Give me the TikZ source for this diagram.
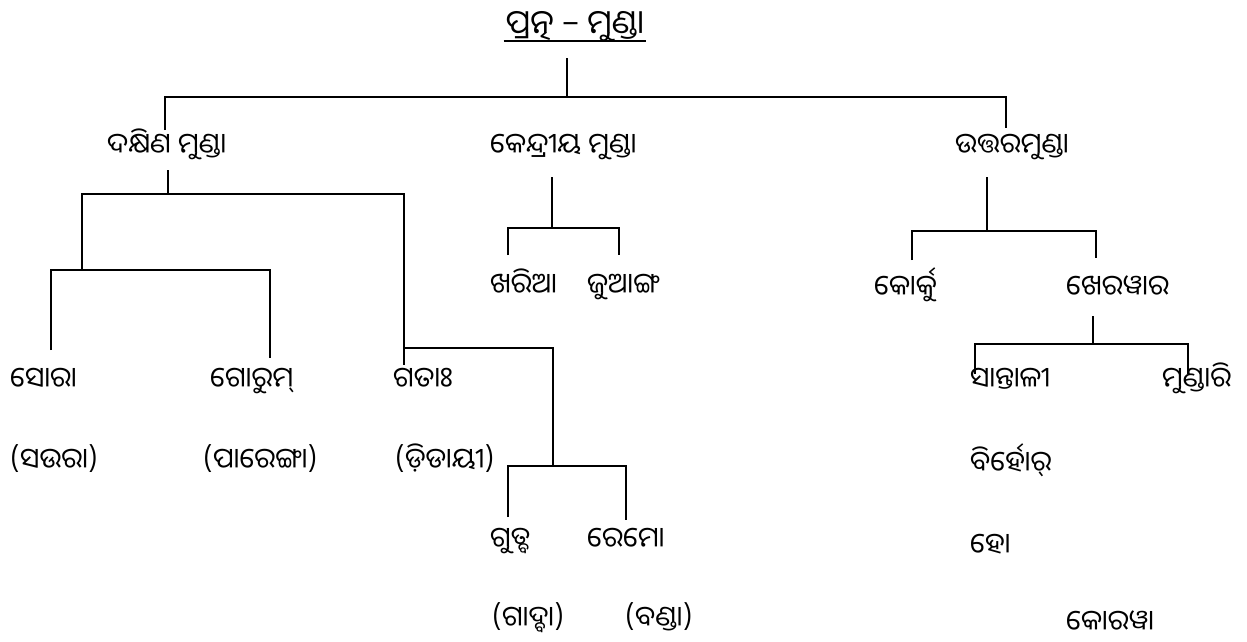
\documentclass[tikz,border=0pt]{standalone}
\usepackage{fontspec}
\newfontfamily\odia[Script=Oriya]{Noto Sans Oriya UI}
\usetikzlibrary{calc}

\tikzset{
  lang/.style={anchor=base west, inner sep=0pt, font=\odia\fontsize{28}{32}\selectfont},
  branch/.style={line width=2.1pt},
}

\begin{document}
\begin{tikzpicture}[x=1pt,y=-1pt]
	\useasboundingbox (0,0) rectangle (1247,641);

	\begin{scope}[every node/.style={lang}]
		% top and the three groups
		\node[anchor=base, font=\odia\fontsize{33}{37}\selectfont] (root) at (575,36) {ପ୍ରତ୍ନ – ମୁଣ୍ଡା};
		\node (south) at (107,155) {ଦକ୍ଷିଣ ମୁଣ୍ଡା};
		\node (central) at (490,155) {କେନ୍ଦ୍ରୀୟ ମୁଣ୍ଡା};
		\node (north) at (955,155) {ଉତ୍ତରମୁଣ୍ଡା};
		% central
		\node (kharia) at (490,295) {ଖରିଆ};
		\node (juang) at (587,295) {ଜୁଆଙ୍ଗ};
		% north
		\node (korku) at (874,297) {କୋର୍କୁ};
		\node (kherwar) at (1066,297) {ଖେରୱାର};
		\node (santali) at (970,389) {ସାନ୍ତାଳୀ};
		\node (mundari) at (1162,389) {ମୁଣ୍ଡାରି};
		\node (birhor) at (970,473) {ବିର୍ହୋର୍};
		\node (ho) at (970,555) {ହୋ};
		\node (korwa) at (1066,632) {କୋରୱା};
		% south
		\node (sora) at (10,389) {ସୋରା};
		\node (gorum) at (210,389) {ଗୋରୁମ୍};
		\node (gata) at (393,389) {ଗତାଃ};
		\node (saura) at (10,470) {(ସଉରା)};
		\node (pareng) at (203,470) {(ପାରେଙ୍ଗା)};
		\node (didayi) at (395,470) {(ଡ଼ିଡାୟୀ)};
		\node (gutob) at (490,549) {ଗୁତ୍ବ};
		\node (remo) at (587,549) {ରେମୋ};
		\node (gadba) at (492,628) {(ଗାଦ୍ବା)};
		\node (bonda) at (625,628) {(ବଣ୍ଡା)};
	\end{scope}

	\draw[line width=1.3pt] ([xshift=-2pt,yshift=-5pt]root.base west) -- ([xshift=2pt,yshift=-5pt]root.base east);

	% drop points
	\coordinate (root-s) at (567,58);
	\coordinate (top) at (567,97);
	\coordinate (south-n) at (165,130);
	\coordinate (north-n) at (1006,128);
	\coordinate (south-s) at (168,170);
	\coordinate (s-bar) at (168,194);
	\coordinate (sg) at (82,270);
	\coordinate (sora-n) at (51,350);
	\coordinate (gorum-n) at (270,358);
	\coordinate (gata-n) at (404,365);
	\coordinate (gr-l) at (404,348);
	\coordinate (gr) at (553,466);
	\coordinate (gutob-n) at (508,517);
	\coordinate (remo-n) at (626,520);
	\coordinate (central-s) at (552,177);
	\coordinate (c-bar) at (552,228);
	\coordinate (kharia-n) at (508,255);
	\coordinate (juang-n) at (619,255);
	\coordinate (north-s) at (987,177);
	\coordinate (n-bar) at (987,231);
	\coordinate (korku-n) at (912,260);
	\coordinate (kherwar-n) at (1096,258);
	\coordinate (kherwar-s) at (1093,316);
	\coordinate (k-bar) at (1093,344);
	\coordinate (santali-n) at (975,374);
	\coordinate (mundari-n) at (1188,374);

	\begin{scope}[branch]
		\draw (root-s) -- (top);
		\draw (south-n) |- (top) -| (north-n);
		\draw (south-s) -- (s-bar);
		\draw (sg) |- (s-bar) -| (gata-n);
		\draw (sora-n) |- (sg) -| (gorum-n);
		\draw (gr-l) -| (gr);
		\draw (gutob-n) |- (gr) -| (remo-n);
		\draw (central-s) -- (c-bar);
		\draw (kharia-n) |- (c-bar) -| (juang-n);
		\draw (north-s) -- (n-bar);
		\draw (korku-n) |- (n-bar) -| (kherwar-n);
		\draw (kherwar-s) -- (k-bar);
		\draw (santali-n) |- (k-bar) -| (mundari-n);
	\end{scope}
\end{tikzpicture}
\end{document}
